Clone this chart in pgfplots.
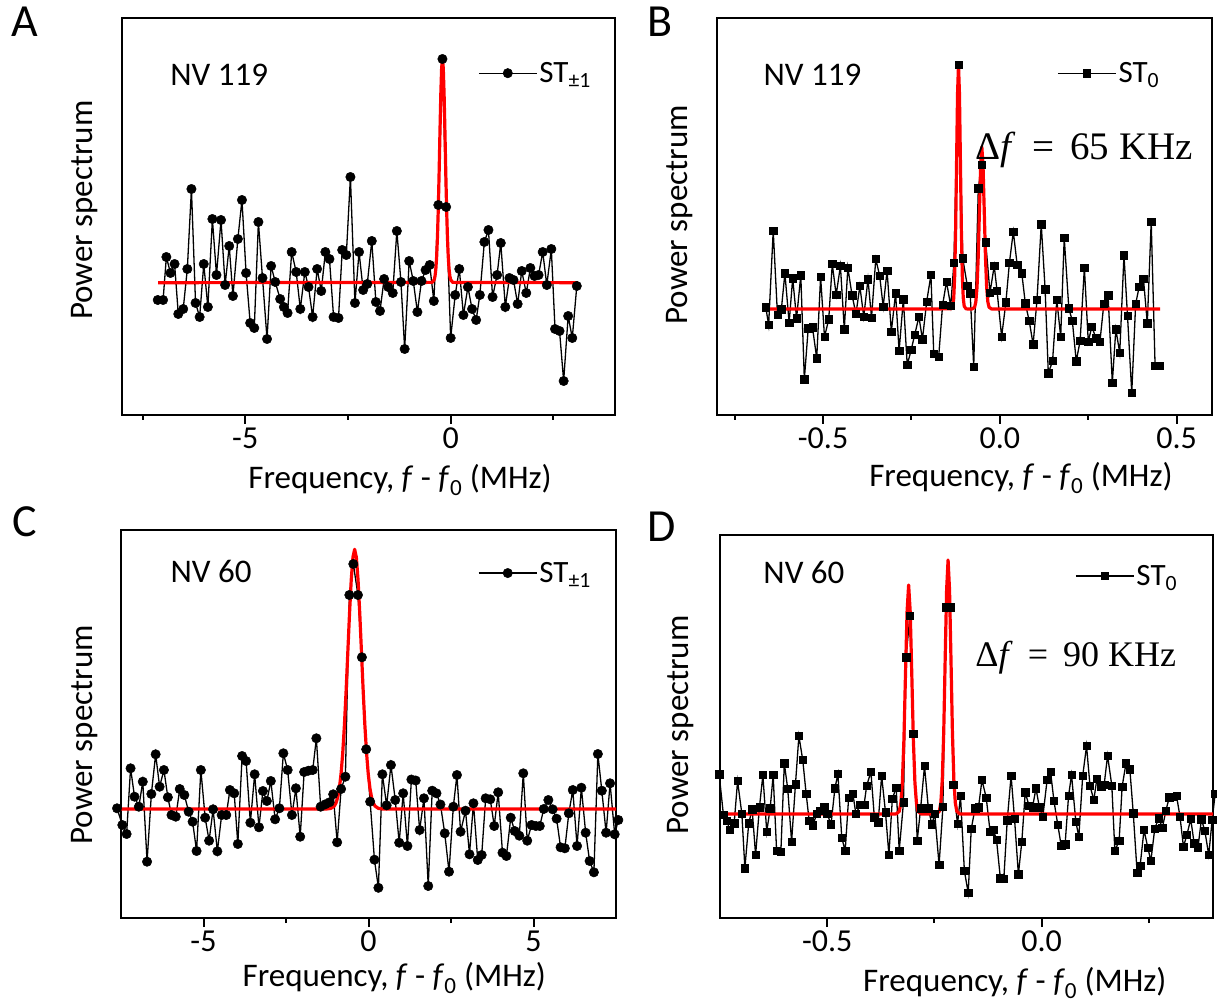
\documentclass[border=0pt]{standalone}
\usepackage{fontspec}
\setmainfont{Carlito}
\newfontfamily\lserif{Liberation Serif}
\usepackage{pgfplots}
\pgfplotsset{compat=1.18}
\pgfplotsset{
 panel/.style={
  scale only axis, clip=false, anchor=south west,
  axis line style={line width=2pt},
  ytick=\empty, xtick pos=bottom, tick align=outside,
  major tick length=9pt, minor tick length=5pt,
  tick style={line width=2pt,black},
  tick label style={font=\fontsize{32}{32}\selectfont},
  /pgf/number format/assume math mode=true,
  label style={font=\fontsize{33}{35}\selectfont},
  legend style={draw=none, fill=none, inner sep=0pt, anchor=west,
    font=\fontsize{31}{33}\selectfont},
  legend image code/.code={\draw[mark repeat=2,mark phase=2,#1] plot coordinates {(0pt,0pt) (29pt,0pt) (58pt,0pt)};},
 },
 dat/.style={black, line width=1.3pt, mark=*, mark size=4.7pt, mark options={solid, fill=black, line width=0.5pt}},
 datsq/.style={black, line width=1.3pt, mark=square*, mark size=3.7pt, mark options={solid, fill=black, line width=0.5pt}},
 fit/.style={red, line width=3.2pt, line join=round, no marks, forget plot},
}
\newcommand{\flabel}{Frequency, \textit{f} - \textit{f}\textsubscript{0} (MHz)}
\newcommand{\nvfont}{\fontsize{33}{35}\selectfont}
\begin{document}
\begin{tikzpicture}
\useasboundingbox (0,0) rectangle (1217pt,1007pt);
% ---------------- A ----------------
\begin{axis}[panel, at={(122pt,592pt)}, width=493pt, height=397pt,
  xmin=-8, xmax=4, ymin=0, ymax=397,
  xtick={-5,0}, minor xtick={-7.5,-2.5,2.5},
  xlabel={\flabel}, ylabel={Power spectrum},
  xlabel style={at={(axis description cs:0.564,-0.164)}, anchor=center},
  ylabel style={at={(axis description cs:-0.076,0.516)}, anchor=center},
  legend style={at={(0.722,0.861)}}]
\addplot[dat] coordinates {(-7.13,115)(-7.00,115)(-6.92,158)(-6.82,142)(-6.72,151)(-6.63,101)(-6.51,106)(-6.41,146)(-6.31,226)(-6.21,112)(-6.11,98)(-6.01,151)(-5.91,108)(-5.80,196)(-5.70,140)(-5.59,195)(-5.49,130)(-5.39,169)(-5.30,119)(-5.18,176)(-5.08,215)(-4.98,142)(-4.88,92)(-4.78,87)(-4.68,193)(-4.58,137)(-4.47,76)(-4.37,149)(-4.27,133)(-4.15,116)(-4.06,108)(-3.97,102)(-3.87,163)(-3.76,143)(-3.66,106)(-3.55,143)(-3.46,128)(-3.36,98)(-3.25,146)(-3.15,124)(-3.05,163)(-2.95,156)(-2.85,98)(-2.73,97)(-2.64,165)(-2.54,160)(-2.44,238)(-2.33,112)(-2.23,163)(-2.13,125)(-2.03,131)(-1.92,174)(-1.82,113)(-1.72,104)(-1.62,136)(-1.52,128)(-1.41,122)(-1.31,184)(-1.21,133)(-1.12,66)(-1.01,154)(-0.91,134)(-0.81,103)(-0.71,134)(-0.61,145)(-0.51,150)(-0.41,114)(-0.30,210)(-0.20,356)(-0.11,208)(0.00,77)(0.11,120)(0.21,146)(0.31,100)(0.42,128)(0.52,106)(0.62,95)(0.71,120)(0.82,173)(0.92,185)(1.02,118)(1.13,140)(1.22,172)(1.33,108)(1.43,137)(1.53,135)(1.63,111)(1.73,144)(1.84,122)(1.94,147)(2.04,139)(2.14,140)(2.24,163)(2.34,130)(2.45,166)(2.54,86)(2.65,84)(2.75,34)(2.86,99)(2.96,77)(3.07,129)};
\addlegendentry{ST\textsubscript{±1}}
\addplot[fit] coordinates {(-7.12,132.3)(-0.45,132.6)(-0.40,135.3)(-0.38,139.0)(-0.36,146.4)(-0.34,159.2)(-0.32,179.6)(-0.30,208.2)(-0.28,244.3)(-0.26,284.2)(-0.24,320.7)(-0.22,346.9)(-0.20,356.3)(-0.18,346.9)(-0.16,320.7)(-0.14,284.2)(-0.12,244.3)(-0.10,208.2)(-0.08,179.6)(-0.06,159.2)(-0.04,146.4)(-0.02,139.0)(0.00,135.3)(0.05,132.6)(3.10,132.3)};
\node[anchor=west, font=\nvfont] at (rel axis cs:0.091,0.856) {NV 119};
\end{axis}
% ---------------- B ----------------
\begin{axis}[panel, at={(717pt,592pt)}, width=495pt, height=397pt,
  xmin=-0.8, xmax=0.6, ymin=0, ymax=397,
  xtick={-0.5,0,0.5}, xticklabels={-0.5,0.0,0.5}, minor xtick={-0.75,-0.25,0.25},
  xlabel={\flabel}, ylabel={Power spectrum},
  xlabel style={at={(axis description cs:0.614,-0.159)}, anchor=center},
  ylabel style={at={(axis description cs:-0.075,0.504)}, anchor=center},
  legend style={at={(0.687,0.861)}}]
\addplot[datsq] coordinates {(-0.662,107.7)(-0.654,90)(-0.641,184.3)(-0.629,100)(-0.618,105.7)(-0.608,141.7)(-0.596,92.3)(-0.586,136.7)(-0.575,96.7)(-0.563,139.7)(-0.553,35.7)(-0.542,86.7)(-0.530,87.7)(-0.518,56.7)(-0.507,138.3)(-0.496,78)(-0.484,95.7)(-0.474,151)(-0.463,120)(-0.451,149)(-0.440,85.7)(-0.430,147.3)(-0.418,119.7)(-0.407,101)(-0.396,129)(-0.385,98.3)(-0.373,135.7)(-0.363,97.3)(-0.351,156)(-0.340,139.3)(-0.330,108.3)(-0.319,144.3)(-0.307,83.3)(-0.295,121.7)(-0.285,64)(-0.273,115.7)(-0.262,50)(-0.251,65)(-0.241,80)(-0.229,98.3)(-0.219,75.7)(-0.207,113.3)(-0.195,140)(-0.187,61)(-0.173,58.3)(-0.162,110)(-0.151,133.3)(-0.139,109)(-0.130,152.3)(-0.117,350)(-0.105,156.7)(-0.092,129)(-0.084,121.7)(-0.074,48.3)(-0.061,226.7)(-0.051,250)(-0.040,172.7)(-0.028,122.3)(-0.016,149)(-0.008,124.3)(0.005,78.3)(0.017,112.7)(0.027,152.3)(0.038,183.3)(0.049,150)(0.062,141.7)(0.072,111.7)(0.083,94)(0.094,70.7)(0.105,115)(0.117,190.7)(0.128,125.7)(0.137,41.7)(0.149,54)(0.161,115)(0.172,78.3)(0.182,177.3)(0.195,106.7)(0.205,94)(0.216,53.7)(0.227,74.3)(0.239,147.3)(0.250,73.3)(0.260,88.3)(0.272,76.7)(0.283,73.3)(0.294,111)(0.306,119.7)(0.318,32.3)(0.328,85.7)(0.339,62)(0.351,159.7)(0.361,99)(0.373,22.3)(0.384,111)(0.394,128.3)(0.406,136.3)(0.417,91.7)(0.428,193.3)(0.439,49)(0.451,49)};
\addlegendentry{ST\textsubscript{0}}
\addplot[fit] coordinates {(-0.667,106)(-0.1386,106.1)(-0.1332,108.7)(-0.1305,116.7)(-0.1278,139)(-0.1251,185.2)(-0.1224,254)(-0.1197,321.3)(-0.117,350)(-0.1143,321.3)(-0.1116,254)(-0.1089,185.2)(-0.1062,139)(-0.1035,116.7)(-0.1008,108.7)(-0.0954,106.1)(-0.0782,106.05)(-0.0714,107.8)(-0.068,113.1)(-0.0646,127.9)(-0.0612,158.6)(-0.0578,204.3)(-0.0544,249)(-0.051,268)(-0.0476,249)(-0.0442,204.3)(-0.0408,158.6)(-0.0374,127.9)(-0.034,113.1)(-0.0306,107.8)(-0.0238,106.05)(0.453,106)};
\node[anchor=west, font=\nvfont] at (rel axis cs:0.087,0.856) {NV 119};
\node[anchor=west, font=\lserif\fontsize{39}{41}\selectfont] at (rel axis cs:0.515,0.667) {Δ\textit{f}\, = \,65 KHz};
\end{axis}
% ---------------- C ----------------
\begin{axis}[panel, at={(121pt,89pt)}, width=495pt, height=388pt,
  xmin=-7.5, xmax=7.5, ymin=0, ymax=388,
  xtick={-5,0,5}, minor xtick={-2.5,2.5},
  xlabel={\flabel}, ylabel={Power spectrum},
  xlabel style={at={(axis description cs:0.552,-0.155)}, anchor=center},
  ylabel style={at={(axis description cs:-0.073,0.472)}, anchor=center},
  legend style={at={(0.721,0.889)}}]
\addplot[dat] coordinates {(-7.62,109.7)(-7.46,93)(-7.33,84)(-7.21,149.7)(-7.09,121.3)(-6.96,111.3)(-6.84,136.3)(-6.71,56.3)(-6.58,124)(-6.45,163.7)(-6.33,131.3)(-6.20,148)(-6.08,120.7)(-5.97,103)(-5.84,101.3)(-5.72,129)(-5.58,123)(-5.45,106.3)(-5.33,96.3)(-5.21,67)(-5.08,148)(-4.95,100.3)(-4.83,77.3)(-4.71,108.7)(-4.58,66.7)(-4.45,103)(-4.31,103)(-4.20,128)(-4.07,124.7)(-3.96,74)(-3.83,162)(-3.71,157)(-3.58,95.3)(-3.45,143.7)(-3.32,90.7)(-3.20,127)(-3.08,117)(-2.96,137)(-2.83,98.7)(-2.70,109.7)(-2.58,164.7)(-2.45,148)(-2.32,103)(-2.20,129.7)(-2.07,81.3)(-1.95,146)(-1.82,147.3)(-1.69,148)(-1.58,179.7)(-1.45,111.3)(-1.31,113.7)(-1.18,115.7)(-1.07,123.7)(-0.95,75.7)(-0.83,129)(-0.70,141.3)(-0.58,323)(-0.46,354)(-0.32,323)(-0.20,260.7)(-0.07,168.7)(0.05,116.3)(0.18,58.3)(0.30,30.2)(0.42,143.7)(0.55,112.7)(0.68,153)(0.81,118)(0.93,75.3)(1.05,124.7)(1.18,72)(1.30,138.5)(1.43,137.5)(1.55,88)(1.68,119.7)(1.81,32)(1.93,127.3)(2.06,124.7)(2.18,113.5)(2.31,84.7)(2.44,46.3)(2.57,111.3)(2.68,143)(2.79,86.3)(2.94,107.3)(3.06,63.7)(3.18,114.7)(3.31,58)(3.43,63)(3.55,119.7)(3.69,118.7)(3.81,92)(3.93,125.7)(4.06,65.3)(4.18,62)(4.31,100.3)(4.43,87)(4.57,82.3)(4.69,144.7)(4.81,77.3)(4.94,93)(5.07,92)(5.19,92)(5.31,109)(5.45,118)(5.58,108.7)(5.70,99.3)(5.82,70.7)(5.95,69.7)(6.07,104.7)(6.19,128)(6.32,72)(6.45,130.3)(6.58,85.3)(6.70,57)(6.83,45.7)(6.95,164)(7.07,127.3)(7.20,85.3)(7.32,134.7)(7.46,83.7)(7.57,98)};
\addlegendentry{ST\textsubscript{±1}}
\addplot[fit] coordinates {(-7.5,109)(-1.244,109.1)(-1.141,109.6)(-1.038,111.9)(-0.9865,114.9)(-0.935,120.4)(-0.8835,129.7)(-0.832,144.1)(-0.7805,165.2)(-0.729,193.3)(-0.6775,227.9)(-0.626,266.5)(-0.5745,305.0)(-0.523,338.2)(-0.4715,360.7)(-0.42,368.7)(-0.3685,360.7)(-0.317,338.2)(-0.2655,305.0)(-0.214,266.5)(-0.1625,227.9)(-0.111,193.3)(-0.0595,165.2)(-0.008,144.1)(0.0435,129.7)(0.095,120.4)(0.1465,114.9)(0.198,111.9)(0.301,109.6)(0.404,109.1)(7.5,109)};
\node[anchor=west, font=\nvfont] at (rel axis cs:0.093,0.892) {NV 60};
\end{axis}
% ---------------- D ----------------
\begin{axis}[panel, at={(720pt,89pt)}, width=493pt, height=383pt,
  xmin=-0.75, xmax=0.4, ymin=0, ymax=383,
  xtick={-0.5,0}, xticklabels={-0.5,0.0}, minor xtick={-0.25,0.25},
  xlabel={\flabel}, ylabel={Power spectrum},
  xlabel style={at={(axis description cs:0.598,-0.170)}, anchor=center},
  ylabel style={at={(axis description cs:-0.081,0.504)}, anchor=center},
  legend style={at={(0.72,0.893)}}]
\addplot[datsq] coordinates {(-0.752,143.7)(-0.742,103)(-0.734,97)(-0.727,88)(-0.717,94.7)(-0.709,137)(-0.699,104)(-0.692,49.7)(-0.683,94.7)(-0.675,108.7)(-0.667,63)(-0.658,110.7)(-0.650,143)(-0.641,86.3)(-0.633,109.7)(-0.626,143)(-0.618,67.3)(-0.608,66.3)(-0.600,154.7)(-0.592,129)(-0.583,76.3)(-0.574,133.7)(-0.566,182)(-0.557,158)(-0.549,124)(-0.542,97.3)(-0.534,92.7)(-0.524,104)(-0.516,107)(-0.507,110.7)(-0.500,104)(-0.491,93.7)(-0.482,129.7)(-0.475,144)(-0.466,80.3)(-0.458,67)(-0.450,120.3)(-0.440,124)(-0.433,104)(-0.423,113)(-0.414,113)(-0.408,132)(-0.398,146.3)(-0.390,100.7)(-0.381,95.7)(-0.373,142.3)(-0.364,105.7)(-0.356,63)(-0.348,119.3)(-0.339,130.3)(-0.332,67.3)(-0.322,115.7)(-0.316,260.7)(-0.307,302.3)(-0.299,184)(-0.290,77.3)(-0.282,109.7)(-0.273,152)(-0.264,109.7)(-0.256,93.7)(-0.249,104)(-0.239,53)(-0.230,111.3)(-0.223,310.7)(-0.213,310.7)(-0.206,133)(-0.196,94)(-0.189,122)(-0.180,47.3)(-0.171,25)(-0.164,89)(-0.155,109.7)(-0.147,110.7)(-0.139,138)(-0.129,120.3)(-0.120,86.3)(-0.112,88)(-0.105,78)(-0.096,39.7)(-0.088,39)(-0.080,97.7)(-0.071,142.3)(-0.063,99.3)(-0.054,43.7)(-0.046,76.3)(-0.038,125.7)(-0.029,112)(-0.021,110.7)(-0.013,129.7)(-0.005,110.7)(0.003,101.3)(0.013,138)(0.021,146.3)(0.029,117)(0.038,93)(0.046,72)(0.055,73.7)(0.063,122)(0.070,143)(0.080,96.3)(0.087,81.3)(0.096,142)(0.105,172)(0.113,132.3)(0.122,118)(0.129,139)(0.139,131.3)(0.146,133)(0.154,162.3)(0.164,132.3)(0.171,67.3)(0.181,77)(0.188,131.3)(0.197,154.7)(0.206,148.7)(0.214,104.7)(0.223,45.3)(0.230,52.3)(0.239,88)(0.248,70.3)(0.255,57)(0.264,89)(0.273,99.7)(0.282,90.3)(0.290,107.3)(0.298,120.7)(0.307,121.3)(0.315,122)(0.323,101.3)(0.331,71.3)(0.339,83)(0.348,99)(0.356,74.7)(0.365,70.7)(0.373,98.7)(0.381,87)(0.390,63)(0.398,98)(0.405,124)};
\addlegendentry{ST\textsubscript{0}}
\addplot[fit] coordinates {(-0.752,104)(-0.3394,104.1)(-0.332,106.5)(-0.3284,114.1)(-0.3247,135)(-0.321,178.4)(-0.3174,242.9)(-0.3137,306.1)(-0.310,333)(-0.3063,306.1)(-0.3026,242.9)(-0.299,178.4)(-0.2953,135)(-0.2916,114.1)(-0.288,106.5)(-0.2806,104.1)(-0.245,104.1)(-0.2383,106.8)(-0.2349,115.2)(-0.2315,138.4)(-0.2281,186.5)(-0.2248,258.1)(-0.2214,328.2)(-0.218,358)(-0.2146,328.2)(-0.2112,258.1)(-0.2079,186.5)(-0.2045,138.4)(-0.2011,115.2)(-0.1977,106.8)(-0.191,104.1)(0.4,104)};
\node[anchor=west, font=\nvfont] at (rel axis cs:0.081,0.903) {NV 60};
\node[anchor=west, font=\lserif\fontsize{36}{38}\selectfont] at (rel axis cs:0.511,0.679) {Δ\textit{f}\, = \,90 KHz};
\end{axis}
% panel letters
\node[font=\fontsize{46}{46}\selectfont] at (25pt,985pt) {A};
\node[font=\fontsize{46}{46}\selectfont] at (660pt,985pt) {B};
\node[font=\fontsize{46}{46}\selectfont] at (25pt,485pt) {C};
\node[font=\fontsize{46}{46}\selectfont] at (662pt,480pt) {D};
\end{tikzpicture}
\end{document}
